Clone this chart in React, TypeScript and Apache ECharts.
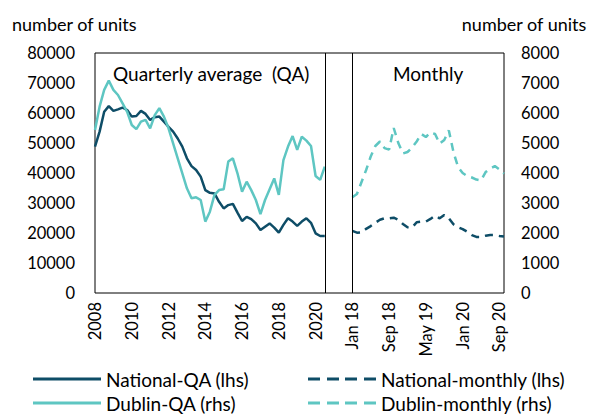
import React, { useEffect, useRef } from "react";
import * as echarts from "echarts";

// ---------- categories ----------
const years = [2008, 2009, 2010, 2011, 2012, 2013, 2014, 2015, 2016, 2017, 2018, 2019, 2020];
const quarterLabels: string[] = [];
years.forEach((y) => ["Q1", "Q2", "Q3", "Q4"].forEach((q) => quarterLabels.push(y + q)));
const quarterCats = quarterLabels.slice(0, 51); // 2008Q1 .. 2020Q3
const gapCats = ["gap1", "gap2", "gap3", "gap4", "gap5"];
const monthNames = ["Jan", "Feb", "Mar", "Apr", "May", "Jun", "Jul", "Aug", "Sep", "Oct", "Nov", "Dec"];
const monthYears = ["18", "19", "20"];
const monthLabelsAll: string[] = [];
monthYears.forEach((y) => monthNames.forEach((m) => monthLabelsAll.push(m + " " + y)));
const monthCats = monthLabelsAll.slice(0, 34); // Jan 18 .. Oct 20
const categories = [...quarterCats, ...gapCats, ...monthCats];

// ---------- series values ----------
const nationalQA = [
  48800, 53800, 60400, 62300, 60700, 61200, 61800, 61000, 58800, 59000,
  60700, 59700, 57700, 58600, 58800, 57100, 55400, 53800, 51500, 48800,
  44900, 42300, 41000, 38800, 34300, 33400, 33200, 30400, 28200, 29300,
  29700, 26800, 24000, 25400, 24600, 23200, 21000, 22100, 23200, 21800,
  20100, 22700, 24900, 23800, 22400, 23800, 24900, 23400, 19900, 19000,
  19000,
];
const dublinQA = [
  5430, 6210, 6770, 7080, 6770, 6600, 6320, 6040, 5600, 5460,
  5710, 5770, 5490, 5930, 6160, 5880, 5490, 4990, 4490, 3990,
  3490, 3160, 3190, 3100, 2380, 2710, 3270, 3430, 3460, 4380,
  4490, 3990, 3380, 3710, 3430, 3100, 2630, 3100, 3460, 3820,
  3270, 4430, 4880, 5230, 4770, 5210, 5080, 4900, 3900, 3770,
  4210,
];
const nationalMonthly = [
  20700, 20100, 20200, 21400, 22300, 23400, 24400, 24900, 24900, 25100,
  24400, 23000, 21900, 21800, 23600, 23800, 23800, 24700, 25800, 24900,
  26000, 24900, 22900, 21900, 21300, 20400, 19300, 18700, 18700, 19100,
  19300, 19300, 19000, 18800,
];
const dublinMonthly = [
  3190, 3300, 3700, 4100, 4550, 4900, 5050, 4830, 4780, 5500,
  5000, 4650, 4700, 4850, 5050, 5300, 5200, 5350, 5300, 4980,
  5100, 5420, 4700, 4200, 4000, 3900, 3850, 3780, 3750, 4030,
  4150, 4230, 4120, 3980,
];

const NAT = "#0e4d67";
const DUB = "#5ec6c2";
const FONT = "Lato";

const SOLID_ICON = "path://M0,0H68V3H0Z";
const DASH_ICON = "path://M0,0H12V3H0Z M19,0H31V3H19Z M37,0H49V3H37Z M56,0H68V3H56Z";

export default function App() {
  const ref = useRef<HTMLDivElement>(null);
  useEffect(() => {
    if (!ref.current) return;
    const chart = echarts.init(ref.current, null, { renderer: "svg" });
    const tick = { fontFamily: FONT, fontSize: 16.5, color: "#000" };
    const legendText = { fontFamily: FONT, fontSize: 19, color: "#000", lineHeight: 20 };
    const legendBase = {
      itemWidth: 68,
      itemHeight: 3,
      itemGap: 7,
      padding: 0,
      textStyle: legendText,
    };
    chart.setOption({
      animation: false,
      textStyle: { fontFamily: FONT },
      title: [
        { text: "number of units", left: 12, top: 15, padding: 0, textStyle: { fontFamily: FONT, fontSize: 18, color: "#000", fontWeight: "normal" } },
        { text: "number of units", right: 3, top: 15, padding: 0, textStyle: { fontFamily: FONT, fontSize: 18, color: "#000", fontWeight: "normal" } },
        { text: "Quarterly average  (QA)", left: 113, top: 64, padding: 0, textStyle: { fontFamily: FONT, fontSize: 19, color: "#000", fontWeight: "normal" } },
        { text: "Monthly", left: 393, top: 64, padding: 0, textStyle: { fontFamily: FONT, fontSize: 19, color: "#000", fontWeight: "normal" } },
      ],
      grid: {
        left: 95,
        right: 86,
        top: 53,
        bottom: 121,
        show: true,
        borderColor: "#000",
        borderWidth: 1,
        containLabel: false,
      },
      legend: [
        { ...legendBase, data: [{ name: "National-QA (lhs)", icon: SOLID_ICON }], left: 33, top: 369 },
        { ...legendBase, data: [{ name: "Dublin-QA (rhs)", icon: SOLID_ICON }], left: 33, top: 393 },
        { ...legendBase, data: [{ name: "National-monthly (lhs)", icon: DASH_ICON }], left: 308, top: 369 },
        { ...legendBase, data: [{ name: "Dublin-monthly (rhs)", icon: DASH_ICON }], left: 308, top: 393 },
      ],
      xAxis: {
        type: "category",
        data: categories,
        boundaryGap: false,
        axisLine: { show: false },
        axisTick: { show: false },
        splitLine: { show: false },
        axisLabel: {
          interval: 7,
          rotate: 90,
          margin: 9,
          ...tick,
          formatter: (v: string) => {
            if (v.startsWith("gap")) return "";
            if (/^\d{4}Q\d$/.test(v)) return v.slice(0, 4);
            return v;
          },
        },
      },
      yAxis: [
        {
          type: "value",
          min: 0,
          max: 80000,
          interval: 10000,
          axisLine: { show: false },
          axisTick: { show: false },
          splitLine: { show: false },
          axisLabel: { ...tick, margin: 20, formatter: (v: number) => String(v) },
        },
        {
          type: "value",
          min: 0,
          max: 8000,
          interval: 1000,
          position: "right",
          axisLine: { show: false },
          axisTick: { show: false },
          splitLine: { show: false },
          axisLabel: { ...tick, margin: 17, formatter: (v: number) => String(v) },
        },
      ],
      series: [
        {
          name: "National-QA (lhs)",
          type: "line",
          yAxisIndex: 0,
          data: nationalQA.map((v, i) => [quarterCats[i], v]),
          symbol: "none",
          lineStyle: { color: NAT, width: 2.5 },
          itemStyle: { color: NAT },
          markLine: {
            silent: true,
            symbol: "none",
            label: { show: false },
            lineStyle: { color: "#000", width: 1, type: "solid" },
            data: [{ xAxis: quarterCats[quarterCats.length - 1] }, { xAxis: monthCats[0] }],
          },
        },
        {
          name: "Dublin-QA (rhs)",
          type: "line",
          yAxisIndex: 1,
          data: dublinQA.map((v, i) => [quarterCats[i], v]),
          symbol: "none",
          lineStyle: { color: DUB, width: 2.5 },
          itemStyle: { color: DUB },
        },
        {
          name: "National-monthly (lhs)",
          type: "line",
          yAxisIndex: 0,
          data: nationalMonthly.map((v, i) => [monthCats[i], v]),
          symbol: "none",
          lineStyle: { color: NAT, width: 2.5, type: [8, 6] },
          itemStyle: { color: NAT },
        },
        {
          name: "Dublin-monthly (rhs)",
          type: "line",
          yAxisIndex: 1,
          data: dublinMonthly.map((v, i) => [monthCats[i], v]),
          symbol: "none",
          lineStyle: { color: DUB, width: 2.5, type: [8, 6] },
          itemStyle: { color: DUB },
        },
      ],
    });
    return () => chart.dispose();
  }, []);
  return <div ref={ref} style={{ width: 590, height: 414, position: "absolute", left: 0, top: 0 }} />;
}
